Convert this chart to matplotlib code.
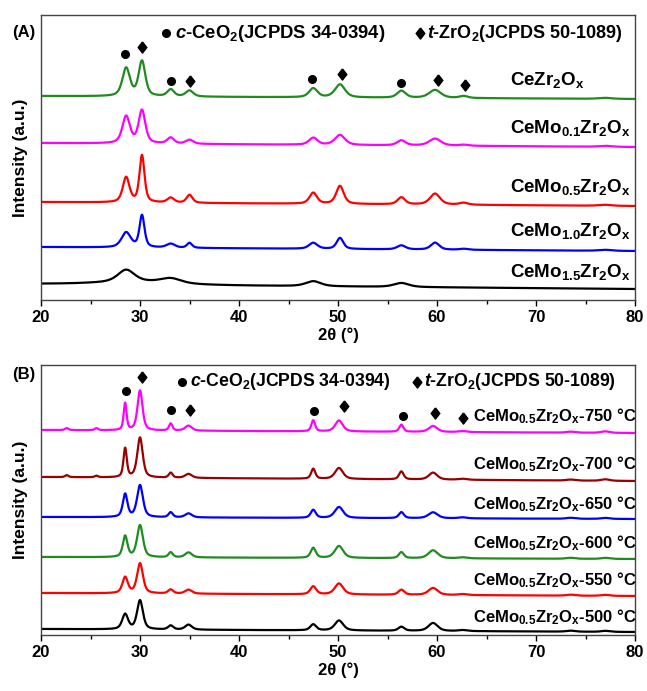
import numpy as np
import matplotlib
matplotlib.use('Agg')
import matplotlib.pyplot as plt
from matplotlib.ticker import MultipleLocator

plt.rcParams['font.family'] = ['Liberation Sans', 'DejaVu Sans']
plt.rcParams['font.weight'] = 'bold'
plt.rcParams['mathtext.fontset'] = 'custom'
plt.rcParams['mathtext.rm'] = 'Liberation Sans:bold'
plt.rcParams['mathtext.it'] = 'Liberation Sans:italic:bold'
plt.rcParams['mathtext.bf'] = 'Liberation Sans:bold'
plt.rcParams['mathtext.default'] = 'rm'

# ---------------- Panel A data (peak positions, heights, FWHM, baselines) --------------
peaksA = [28.6, 30.2, 33.1, 35.0, 47.5, 50.2, 56.4, 59.8, 62.7, 77.0, 29.5]
h_CeZr = [28, 35, 7, 6, 9, 13, 7, 8, 2, 1, 0]
w_CeZr = [0.9, 0.8, 0.8, 0.9, 1.0, 1.2, 1.0, 1.4, 1.0, 1.5, 8]
h_Mo01 = [27, 33, 6, 4, 7, 10, 5, 7, 1, 1, 0]
w_Mo01 = [0.9, 0.8, 0.8, 0.9, 1.0, 1.2, 1.0, 1.4, 1.0, 1.5, 8]
h_Mo05 = [25, 47, 5, 8, 11, 18, 7, 11, 2, 1, 0]
w_Mo05 = [0.8, 0.6, 0.8, 0.7, 0.9, 0.9, 0.9, 1.2, 1.0, 1.5, 8]
h_Mo10 = [15, 32, 4, 5, 6, 11, 4, 7, 1, 1, 0]
w_Mo10 = [1.1, 0.6, 1.0, 0.6, 1.0, 0.8, 1.0, 1.0, 1.0, 1.5, 8]
h_Mo15 = [12, 0, 5, 0, 5, 0, 4, 0, 0, 0, 3]
w_Mo15 = [2.0, 1.0, 2.5, 1.0, 1.8, 1.0, 1.8, 1.0, 1.0, 1.0, 9]
baseA_left = [204, 157, 98, 53, 16]
baseA_right = [201, 153, 94, 49, 11]
labelsA = ['CeZr$_2$O$_x$', 'CeMo$_{0.1}$Zr$_2$O$_x$', 'CeMo$_{0.5}$Zr$_2$O$_x$',
           'CeMo$_{1.0}$Zr$_2$O$_x$', 'CeMo$_{1.5}$Zr$_2$O$_x$']
labelA_y = [220, 172, 113, 69, 28]
colorsA = ['#1e8c1e', '#ff00ff', '#ff0000', '#0000ff', '#000000']

markA_x = [28.5, 30.2, 33.1, 35.0, 47.4, 50.4, 56.4, 60.1, 62.8]
markA_y = [246, 253, 219, 219, 221, 226, 217, 220, 215]
markA_kind = ['o', 'D', 'o', 'D', 'o', 'D', 'o', 'D', 'D']

# ---------------- Panel B data ----------------
peaksB = [22.6, 25.6, 28.5, 30.0, 33.1, 34.9, 47.5, 50.1, 56.4, 59.6, 62.6, 73.5, 77.0]
h750 = [2, 2, 27, 40, 7, 5, 11, 11, 7, 6, 1, 1, 1.5]
w750 = [0.4, 0.4, 0.35, 0.6, 0.4, 0.8, 0.45, 0.9, 0.5, 1.0, 1.0, 1.0, 1.0]
h700 = [2, 1.5, 29, 40, 5, 4, 10, 11, 8, 7, 1, 1, 1.5]
w700 = [0.4, 0.4, 0.4, 0.65, 0.45, 0.8, 0.5, 0.95, 0.55, 1.0, 1.0, 1.0, 1.0]
h650 = [0, 0, 23, 32, 5, 4, 8, 11, 6, 6, 1, 1, 1]
w650 = [0.4, 0.4, 0.55, 0.7, 0.5, 0.8, 0.6, 1.0, 0.6, 1.1, 1.0, 1.0, 1.0]
h600 = [0, 0, 21, 32, 5, 5, 10, 12, 6, 8, 1, 1, 1]
w600 = [0.4, 0.4, 0.55, 0.7, 0.5, 0.8, 0.6, 1.0, 0.6, 1.1, 1.0, 1.0, 1.0]
h550 = [0, 0, 16, 30, 4, 4, 8, 11, 5, 7, 1, 1, 1]
w550 = [0.4, 0.4, 0.65, 0.7, 0.6, 0.8, 0.7, 1.0, 0.7, 1.1, 1.0, 1.0, 1.0]
h500 = [0, 0, 15, 29, 4, 5, 6, 10, 4, 8, 1, 1, 1]
w500 = [0.4, 0.4, 0.7, 0.7, 0.6, 0.8, 0.7, 1.0, 0.7, 1.1, 1.0, 1.0, 1.0]
baseB_left = [205, 158, 118, 78, 42, 6]
baseB_right = [202, 154, 116, 76, 39, 3]
temps = ['750', '700', '650', '600', '550', '500']
labelB_y = [219, 171, 131, 92, 55, 18]
colorsB = ['#ff00ff', '#990000', '#0000ff', '#1e8c1e', '#ff0000', '#000000']

markB_x = [28.6, 30.2, 33.1, 35.0, 47.6, 50.6, 56.6, 59.8, 62.6]
markB_y = [244, 258, 225, 225, 224, 229, 219, 222, 217]
markB_kind = ['o', 'D', 'o', 'D', 'o', 'D', 'o', 'D', 'D']

DIAMOND = [(0, 1), (0.78, 0), (0, -1), (-0.78, 0), (0, 1)]


def profile(x, pos, hts, wds, b0, b1, eta=0.55):
    y = b0 + (b1 - b0) * (x - 20) / 60.0
    for p, h, w in zip(pos, hts, wds):
        if h == 0:
            continue
        hw = w / 2.0
        lor = 1.0 / (1.0 + ((x - p) / hw) ** 2)
        gau = np.exp(-np.log(2) * ((x - p) / hw) ** 2)
        y = y + h * (eta * lor + (1 - eta) * gau)
    return y


def mk(ax, x, y, k):
    if k == 'o':
        ax.plot(x, y, marker='o', color='black', ms=5.5, ls='none')
    else:
        ax.plot(x, y, marker=DIAMOND, color='black', ms=8, ls='none')


tt = np.linspace(20, 80, 2401)

fig = plt.figure(figsize=(6.47, 6.91), dpi=100)
axA = fig.add_axes([41 / 647, 1 - 300 / 691, 594 / 647, 285 / 691])
axB = fig.add_axes([41 / 647, 1 - 635 / 691, 594 / 647, 270 / 691])


def style(ax, top):
    ax.set_xlim(20, 80)
    ax.set_ylim(0, top)
    ax.set_yticks([])
    ax.xaxis.set_major_locator(MultipleLocator(10))
    ax.xaxis.set_minor_locator(MultipleLocator(5))
    ax.tick_params(axis='x', which='major', direction='out', length=4, width=1,
                   labelsize=12, pad=3, top=False)
    ax.tick_params(axis='x', which='minor', direction='out', length=3, width=1, top=False)
    for lab in ax.get_xticklabels():
        lab.set_fontweight('bold')
    for s in ax.spines.values():
        s.set_color('#444444')
        s.set_linewidth(1.0)
    ax.set_xlabel('2θ (°)', fontsize=12, fontweight='bold', labelpad=2)
    ax.set_ylabel('Intensity (a.u.)', fontsize=12.5, fontweight='bold')
    ax.yaxis.set_label_coords(-0.022, 0.5)


style(axA, 285)
style(axB, 270)

# Panel A curves
seriesA = [(h_CeZr, w_CeZr), (h_Mo01, w_Mo01), (h_Mo05, w_Mo05), (h_Mo10, w_Mo10), (h_Mo15, w_Mo15)]
for i, (h, w) in enumerate(seriesA):
    axA.plot(tt, profile(tt, peaksA, h, w, baseA_left[i], baseA_right[i]),
             color=colorsA[i], lw=1.6)
    axA.text(67.4, labelA_y[i], labelsA[i], fontsize=13.5, fontweight='bold',
             ha='left', va='center')
for x, y, k in zip(markA_x, markA_y, markA_kind):
    mk(axA, x, y, k)

# Panel B curves
seriesB = [(h750, w750), (h700, w700), (h650, w650), (h600, w600), (h550, w550), (h500, w500)]
for i, (h, w) in enumerate(seriesB):
    axB.plot(tt, profile(tt, peaksB, h, w, baseB_left[i], baseB_right[i]),
             color=colorsB[i], lw=1.6)
    axB.text(63.6, labelB_y[i], 'CeMo$_{0.5}$Zr$_2$O$_x$-' + temps[i] + ' °C',
             fontsize=12, fontweight='bold', ha='left', va='center')
for x, y, k in zip(markB_x, markB_y, markB_kind):
    mk(axB, x, y, k)

# legends (phase markers)
mk(axA, 32.6, 267, 'o')
axA.text(33.5, 267, r'$\mathit{c}$-CeO$_2$(JCPDS 34-0394)', fontsize=13.3,
         fontweight='bold', ha='left', va='center')
mk(axA, 58.3, 267, 'D')
axA.text(59.0, 267, r'$\mathit{t}$-ZrO$_2$(JCPDS 50-1089)', fontsize=13,
         fontweight='bold', ha='left', va='center')

mk(axB, 34.2, 253, 'o')
axB.text(35.0, 253, r'$\mathit{c}$-CeO$_2$(JCPDS 34-0394)', fontsize=12.7,
         fontweight='bold', ha='left', va='center')
mk(axB, 58.0, 253, 'D')
axB.text(58.7, 253, r'$\mathit{t}$-ZrO$_2$(JCPDS 50-1089)', fontsize=12.7,
         fontweight='bold', ha='left', va='center')

fig.text(24 / 647, 1 - 32 / 691, '(A)', fontsize=12, fontweight='bold', ha='center', va='center')
fig.text(24 / 647, 1 - 375 / 691, '(B)', fontsize=12, fontweight='bold', ha='center', va='center')

fig.savefig('out.png', dpi=100)
